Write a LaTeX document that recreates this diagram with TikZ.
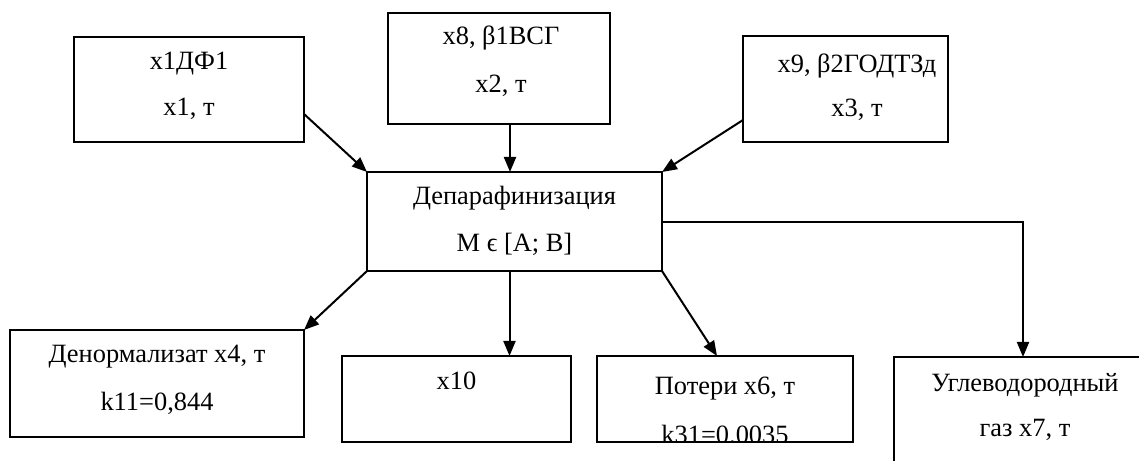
\documentclass[tikz,border=0pt]{standalone}
\usepackage{fontspec}
\setmainfont{Liberation Serif}
\usetikzlibrary{arrows.meta,calc}
\begin{document}
\begin{tikzpicture}[x=1bp,y=-1bp,
  box/.style={draw,line width=2bp,inner sep=0pt,outer sep=0pt},
  txt/.style={anchor=base,inner sep=0pt,font=\fontsize{26.5}{30}\selectfont},
  conn/.style={line width=2bp,-{Triangle[length=15bp,width=12bp]}}]
\clip (0,0) rectangle (1139,461);
% input streams
\node[box,minimum width=230bp,minimum height=105bp] (b1) at (189,89.5) {};
\node[txt] (t1a) at (189,70) {x1ДФ1};
\node[txt] (t1b) at (189,116) {x1, т};
\node[box,minimum width=222bp,minimum height=111bp] (b2) at (499,68.5) {};
\node[txt] (t2a) at (501,45) {x8, β1ВСГ};
\node[txt] (t2b) at (501,93) {x2, т};
\node[box,minimum width=205bp,minimum height=106bp] (b3) at (845.5,89) {};
\node[txt] (t3a) at (857,73) {x9, β2ГОДТЗд};
\node[txt] (t3b) at (857,117) {x3, т};
% process
\node[box,minimum width=295bp,minimum height=99bp] (main) at (514.5,221.5) {};
\node[txt] (tma) at (514.5,205) {Депарафинизация};
\node[txt] (tmb) at (514.5,252) {M ϵ [A; B]};
% output streams
\node[box,minimum width=294bp,minimum height=107bp] (b4) at (157,383.5) {};
\node[txt] (t4a) at (157,363) {Денормализат x4, т};
\node[txt] (t4b) at (157,411) {k11=0,844};
\node[box,minimum width=229bp,minimum height=86bp] (b5) at (456.5,399) {};
\node[txt] (t5a) at (456.5,390) {x10};
\node[box,minimum width=256bp,minimum height=86bp] (b6) at (725,399) {};
\node[txt] (t6a) at (725,395) {Потери x6, т};
\begin{scope}
  \clip (b6.south west) rectangle (b6.north east);
  \node[txt] (t6b) at (725,444) {k31=0.0035};
\end{scope}
\node[box,minimum width=262bp,minimum height=123bp] (b7) at (1025,418.5) {};
\node[txt] (t7a) at (1025,392) {Углеводородный};
\node[txt] (t7b) at (1025,437) {газ x7, т};
% connectors
\coordinate (m2) at ([xshift=-4.5bp]main.north);
\coordinate (m6) at ([xshift=-5bp]main.south);
\draw[conn] ([yshift=-24.5bp]b1.east) -- (main.north west);
\draw[conn] (m2 |- b2.south) -- (m2);
\draw[conn] ([yshift=-31bp]b3.west) -- (main.north east);
\draw[conn] ([yshift=-0.5bp]main.east) -| ([xshift=-2bp]b7.north);
\draw[conn] (main.south west) -- (b4.north east);
\draw[conn] (m6) -- (m6 |- b5.north);
\draw[conn] (main.south east) -- ([xshift=-8bp]b6.north);
\end{tikzpicture}
\end{document}
